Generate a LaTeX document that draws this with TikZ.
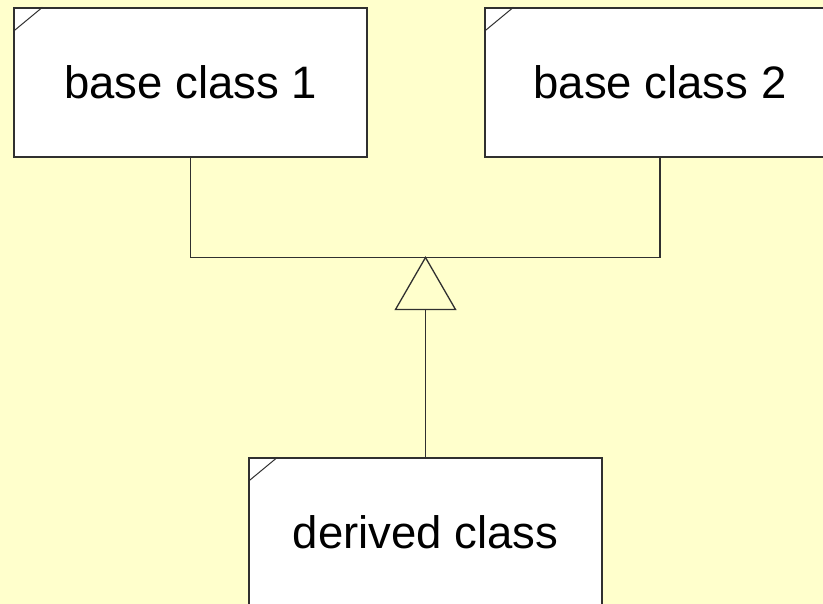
\documentclass[tikz,border=0pt]{standalone}
\usepackage{fontspec}
\setmainfont{Liberation Sans}
\definecolor{bgyellow}{HTML}{FFFFCC}
\definecolor{edge}{HTML}{303030}
\begin{document}
\begin{tikzpicture}[x=1pt,y=-1pt,
  classbox/.style={draw=edge,line width=1.3pt,fill=white,rectangle,inner sep=0pt,
    font=\fontsize{45.5}{54}\selectfont},
  conn/.style={draw=edge,line width=1.3pt}]
\useasboundingbox (0,0) rectangle (823,604);
\fill[bgyellow] (0,0) rectangle (823,604);
\clip (0,0) rectangle (823,604);
\node[classbox,minimum width=353pt,minimum height=149pt] (b1) at (190.5,82.5) {base class 1};
\node[classbox,minimum width=350pt,minimum height=149pt] (b2) at (660,82.5) {base class 2};
\node[classbox,minimum width=353pt,minimum height=149pt] (d) at (425.5,532.5) {derived class};
\foreach \n in {b1,b2,d}{
  \draw[edge,line width=1pt] ([yshift=-24pt]\n.north west) -- ([xshift=29pt]\n.north west);
}
\coordinate (apex) at (425.5,257.5);
\coordinate (tbase) at (425.5,309.5);
\coordinate (tleft) at (395.5,309.5);
\coordinate (tright) at (455.5,309.5);
\draw[conn] (b1.south) |- (apex) -| (b2.south);
\draw[conn,fill=bgyellow] (apex) -- (tright) -- (tleft) -- cycle;
\draw[conn] (tbase) -- (d.north);
\end{tikzpicture}
\end{document}
